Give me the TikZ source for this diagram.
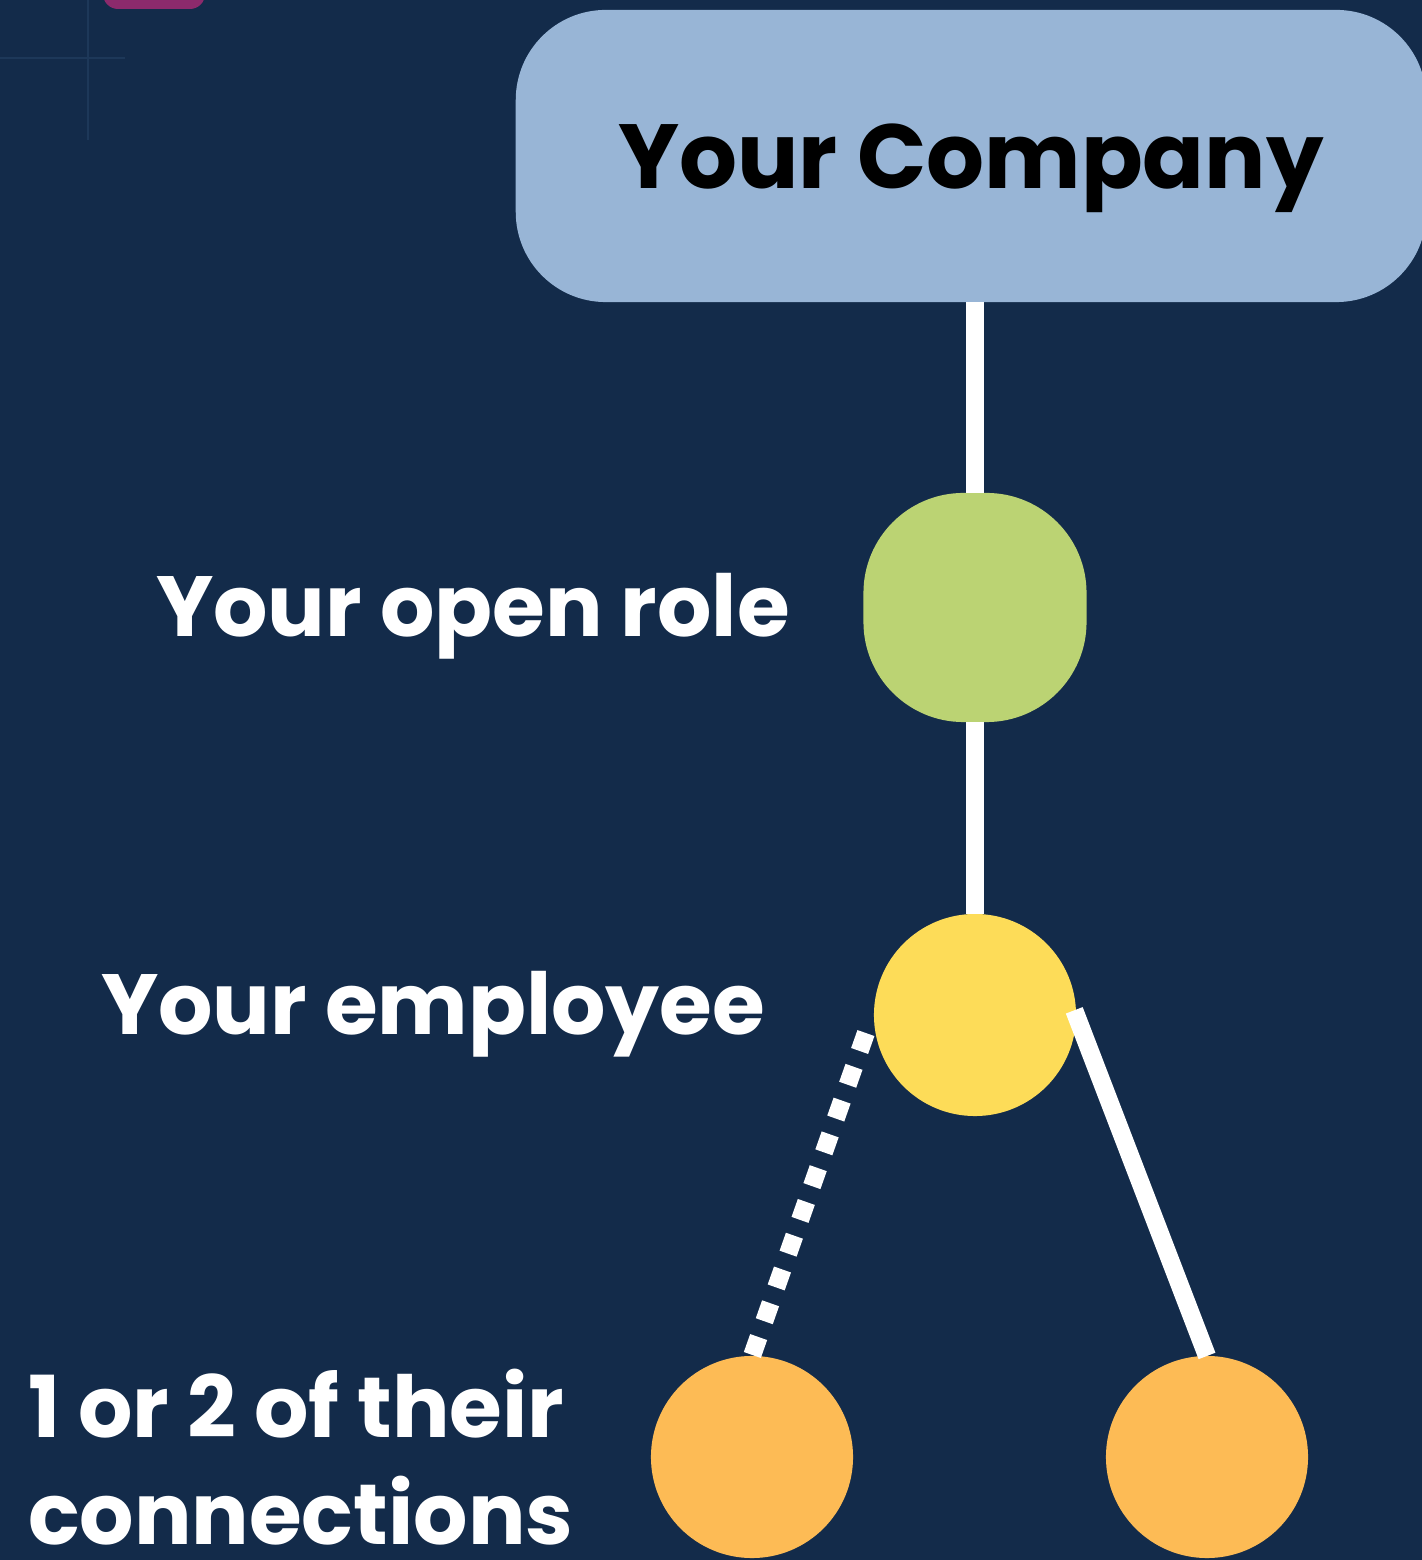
\documentclass[tikz,border=0pt]{standalone}
\usepackage{fontspec}
\setmainfont{Poppins}[UprightFont=* Bold]
\usetikzlibrary{calc}
\definecolor{navy}{HTML}{132B4A}
\definecolor{gridline}{HTML}{1D3859}
\definecolor{magentatab}{HTML}{8C2A6C}
\definecolor{companyblue}{HTML}{98B5D6}
\definecolor{rolegreen}{HTML}{BBD373}
\definecolor{empyellow}{HTML}{FDDC58}
\definecolor{conorange}{HTML}{FDBB55}
\tikzset{
  labeltext/.style={text=white, font=\fontsize{24.3pt}{30.7pt}\selectfont, inner sep=0pt, outer sep=0pt, anchor=base west, align=left},
  dot/.style={circle, minimum size=2.02cm, inner sep=0pt, outer sep=0pt},
  link/.style={draw=white, line width=0.18cm},
  dottedlink/.style={draw=white, line width=0.18cm, dash pattern=on 0.19cm off 0.168cm}
}
\begin{document}
\begin{tikzpicture}[x=0.01cm,y=0.01cm]
  % canvas
  \fill[navy] (0,0) rectangle (1422,1560);
  \useasboundingbox (0,0) rectangle (1422,1560);
  \begin{scope}
    \clip (0,0) rectangle (1422,1560);
    % faint guide lines and tab in the corner
    \draw[gridline, line width=0.02cm] (88,1560) -- (88,1420);
    \draw[gridline, line width=0.02cm] (0,1502) -- (125,1502);
    \fill[magentatab, rounded corners=0.15cm] (103,1551) rectangle (205,1600);

    % company box
    \node[fill=companyblue, rounded corners=0.9cm, minimum width=9.10cm, minimum height=2.92cm,
          inner sep=0pt, outer sep=0pt, text height=0.70cm, text depth=0.06cm,
          font=\fontsize{25.9pt}{30pt}\selectfont, text=black]
          (company) at (971,1404) {Your Company};

    % role, employee and connections
    \node[fill=rolegreen, rounded corners=1cm, minimum width=2.23cm, minimum height=2.29cm,
          inner sep=0pt, outer sep=0pt] (role) at (975,952.5) {};
    \node[dot, fill=empyellow] (emp) at (975,545) {};
    \node[dot, fill=conorange] (conL) at (752,103) {};
    \node[dot, fill=conorange] (conR) at (1207,103) {};
  \end{scope}

  % connectors
  \coordinate (dotstart) at ($(emp.center)+(189.4:1.105cm)$);
  \draw[link] (role.north) -- (role.north |- company.south);
  \draw[link] (role.south) -- (emp.north);
  \draw[link, shorten <=-0.05cm] (emp.east) -- (conR.north);
  \draw[dottedlink] (dotstart) -- (conL.north);

  % labels
  \node[labeltext] (lrole) at (156,923) {Your open role};
  \node[labeltext] (lemp) at (101,525) {Your employee};
  \node[labeltext] (lcon) at (28,15) {1 or 2 of their\\connections};
\end{tikzpicture}
\end{document}
